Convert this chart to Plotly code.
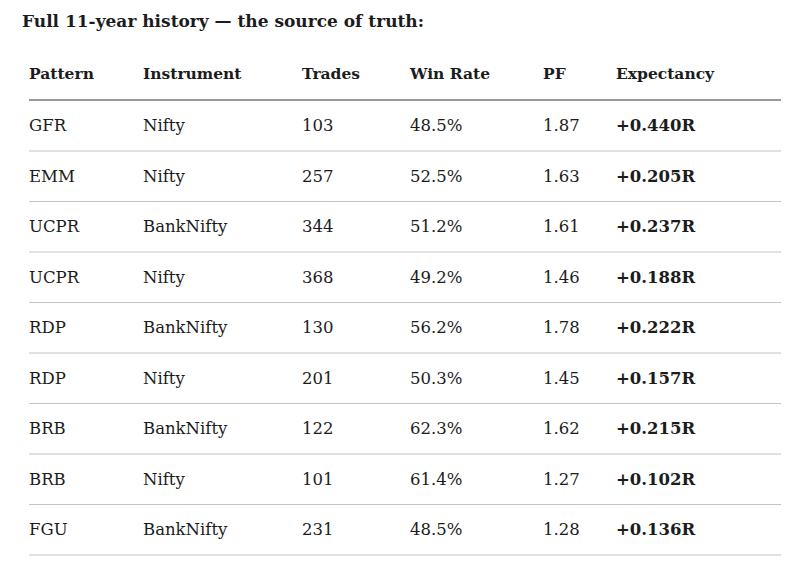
import plotly.graph_objects as go

title = 'Full 11-year history — the source of truth:'
headers = ['Pattern', 'Instrument', 'Trades', 'Win Rate', 'PF', 'Expectancy']
patterns = ['GFR', 'EMM', 'UCPR', 'UCPR', 'RDP', 'RDP', 'BRB', 'BRB', 'FGU']
instruments = ['Nifty', 'Nifty', 'BankNifty', 'Nifty', 'BankNifty', 'Nifty', 'BankNifty', 'Nifty', 'BankNifty']
trades = [103, 257, 344, 368, 130, 201, 122, 101, 231]
win_rate = [48.5, 52.5, 51.2, 49.2, 56.2, 50.3, 62.3, 61.4, 48.5]
pf = [1.87, 1.63, 1.61, 1.46, 1.78, 1.45, 1.62, 1.27, 1.28]
expectancy = [0.440, 0.205, 0.237, 0.188, 0.222, 0.157, 0.215, 0.102, 0.136]

# layout in page pixel units (the page body adds an 8px margin)
off = 8
col_x = [29, 143, 302, 410, 543, 616]
head_y = 75
row0_y = 127
row_h = 50.5
font = 'DejaVu Serif'
ink = '#1c1c1c'

columns = [
    patterns,
    instruments,
    [str(t) for t in trades],
    [f'{w:.1f}%' for w in win_rate],
    [f'{p:.2f}' for p in pf],
    [f'<b>+{e:.3f}R</b>' for e in expectancy],
]
row_y = [row0_y + row_h * i for i in range(len(patterns))]

fig = go.Figure()
for x, h in zip(col_x, headers):
    fig.add_trace(go.Scatter(x=[x], y=[head_y], mode='text', text=[f'<b>{h}</b>'],
                             textposition='middle right', hoverinfo='skip',
                             textfont=dict(family=font, size=15.5, color=ink)))
for x, vals in zip(col_x, columns):
    fig.add_trace(go.Scatter(x=[x] * len(vals), y=row_y, mode='text', text=vals,
                             textposition='middle right', hoverinfo='skip',
                             textfont=dict(family=font, size=16.5, color=ink)))

fig.add_shape(type='line', x0=29, x1=781, y0=100, y1=100, line=dict(color='#777777', width=1.5))
for i in range(len(patterns)):
    yl = 151 + row_h * i
    fig.add_shape(type='line', x0=29, x1=781, y0=yl, y1=yl, line=dict(color='#c4c4c4', width=1))

fig.add_annotation(x=20, y=21, xref='x', yref='y', text=f'<b>{title}</b>', showarrow=False,
                   xanchor='left', yanchor='middle', font=dict(family=font, size=17, color=ink))

fig.update_layout(width=800, height=572, margin=dict(l=0, r=0, t=0, b=0),
                  paper_bgcolor='white', plot_bgcolor='white', showlegend=False)
fig.update_xaxes(range=[off, 800 + off], visible=False)
fig.update_yaxes(range=[572 + off, off], visible=False)
fig.write_html('out.html')
